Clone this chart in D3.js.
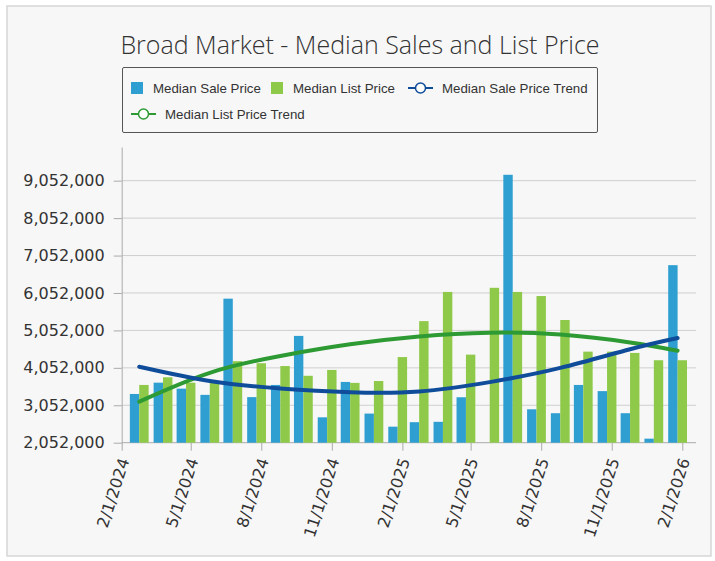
<!DOCTYPE html>
<html>
<head>
<meta charset="utf-8">
<script src="https://cdn.jsdelivr.net/npm/d3@7"></script>
<style>
  body { margin: 0; background: #fff; }
  svg { display: block; }
  .ylab text, .xlab text { font: 16px "DejaVu Sans", sans-serif; fill: #333; }
  .legend text { font: 13.3px "Liberation Sans", Arial, sans-serif; fill: #333; }
</style>
</head>
<body>
<svg id="chart" width="715" height="561"></svg>
<script>
// monthly values
var months = ["3/1/2024","4/1/2024","5/1/2024","6/1/2024","7/1/2024","8/1/2024","9/1/2024","10/1/2024",
              "11/1/2024","12/1/2024","1/1/2025","2/1/2025","3/1/2025","4/1/2025","5/1/2025","6/1/2025",
              "7/1/2025","8/1/2025","9/1/2025","10/1/2025","11/1/2025","12/1/2025","1/1/2026","2/1/2026"];
var salePrice = [3354000,3656000,3496000,3330000,5900000,3270000,3595000,4905000,
                 2730000,3675000,2830000,2480000,2600000,2610000,3266000,null,
                 9210000,2945000,2840000,3595000,3430000,2840000,2160000,6795000];
var listPrice = [3595000,3800000,3656000,3660000,4230000,4175000,4100000,3840000,
                 3996000,3650000,3700000,4340000,5300000,6080000,4405000,6190000,
                 6080000,5970000,5330000,4485000,4485000,4450000,4255000,4255000];

// trend lines
var trendMonths = ["3/1/2024","6/1/2024","9/1/2024","12/1/2024","3/1/2025","6/1/2025","9/1/2025","12/1/2025","2/1/2026"];
var saleTrend = [4080000,3700000,3500000,3400000,3420000,3670000,4050000,4550000,4850000];
var listTrend = [3150000,3920000,4370000,4680000,4890000,4990000,4940000,4730000,4510000];

var yTicks = [2052000,3052000,4052000,5052000,6052000,7052000,8052000,9052000];
var xTicks = ["2/1/2024","5/1/2024","8/1/2024","11/1/2024","2/1/2025","5/1/2025","8/1/2025","11/1/2025","2/1/2026"];

var parse = d3.timeParse("%m/%d/%Y");
var svg = d3.select("#chart");

var plotL = 121.7, plotR = 696, plotT = 147, plotB = 442.7;
var barW = 9.4;

svg.append("rect")
  .attr("x", 7).attr("y", 6).attr("width", 704).attr("height", 550)
  .attr("fill", "#f7f7f7").attr("stroke", "#d6d6d6").attr("stroke-width", 1.5);

svg.append("text")
  .attr("x", 360).attr("y", 54)
  .attr("text-anchor", "middle")
  .style("font", "300 25px 'Open Sans', sans-serif")
  .style("fill", "#333")
  .text("Broad Market - Median Sales and List Price");

var x = d3.scaleTime()
  .domain([parse("2/1/2024"), parse("2/1/2026")])
  .range([plotL, 682.3]);
var y = d3.scaleLinear().domain([2052000, 9952000]).range([plotB, plotT]);

// grid
svg.append("g").selectAll("line")
  .data(yTicks.slice(1))
  .enter().append("line")
  .attr("x1", plotL).attr("x2", plotR)
  .attr("y1", function(d){ return y(d); }).attr("y2", function(d){ return y(d); })
  .attr("stroke", "#cfcfcf");

// y axis
var gy = svg.append("g").attr("class", "ylab")
  .attr("transform", "translate(" + plotL + ",0)")
  .call(d3.axisLeft(y).tickValues(yTicks).tickFormat(d3.format(",")).tickSize(8).tickPadding(9).tickSizeOuter(0));
gy.select(".domain").attr("stroke", "#aaa");
gy.selectAll(".tick line").attr("stroke", "#aaa");

// x axis
var gx = svg.append("g").attr("class", "xlab")
  .attr("transform", "translate(0," + plotB + ")")
  .call(d3.axisBottom(x).tickValues(xTicks.map(parse)).tickFormat(d3.timeFormat("%-m/%-d/%Y")).tickSize(8).tickSizeOuter(0));
gx.select(".domain").remove();
gx.append("line").attr("x1", plotL).attr("x2", plotR).attr("stroke", "#aaa");
gx.selectAll(".tick line").attr("stroke", "#aaa");
gx.selectAll(".tick text")
  .attr("text-anchor", "end")
  .attr("x", 0).attr("y", 0).attr("dy", "0.35em")
  .attr("transform", "translate(2,16) rotate(-72)");

// bars
var cx = function(m){ return x(parse(m)) - barW / 2; };
var bars = svg.append("g");
bars.selectAll(".sale")
  .data(months.map(function(m, i){ return {m: m, v: salePrice[i]}; }).filter(function(d){ return d.v != null; }))
  .enter().append("rect")
  .attr("class", "sale")
  .attr("x", function(d){ return cx(d.m) - barW; })
  .attr("width", barW)
  .attr("y", function(d){ return y(d.v); })
  .attr("height", function(d){ return plotB - y(d.v); })
  .attr("fill", "#2f9fd1");
bars.selectAll(".list")
  .data(months.map(function(m, i){ return {m: m, v: listPrice[i]}; }))
  .enter().append("rect")
  .attr("class", "list")
  .attr("x", function(d){ return cx(d.m); })
  .attr("width", barW)
  .attr("y", function(d){ return y(d.v); })
  .attr("height", function(d){ return plotB - y(d.v); })
  .attr("fill", "#8fc94a");

// trends
var line = d3.line()
  .x(function(d){ return cx(d[0]); })
  .y(function(d){ return y(d[1]); })
  .curve(d3.curveNatural);
svg.append("path")
  .attr("d", line(d3.zip(trendMonths, listTrend)))
  .attr("fill", "none").attr("stroke", "#2e9a33").attr("stroke-width", 4).attr("stroke-linecap", "round");
svg.append("path")
  .attr("d", line(d3.zip(trendMonths, saleTrend)))
  .attr("fill", "none").attr("stroke", "#0f4c9a").attr("stroke-width", 4).attr("stroke-linecap", "round");

// legend
var lg = svg.append("g").attr("class", "legend");
lg.append("rect").attr("x", 122.5).attr("y", 67.5).attr("width", 475).attr("height", 65)
  .attr("rx", 1.5).attr("fill", "none").attr("stroke", "#555");

var items = [
  {t: "Median Sale Price", c: "#2f9fd1", k: "box", x: 131, y: 88},
  {t: "Median List Price", c: "#8fc94a", k: "box", x: 271, y: 88},
  {t: "Median Sale Price Trend", c: "#0f4c9a", k: "line", x: 408, y: 88},
  {t: "Median List Price Trend", c: "#2e9a33", k: "line", x: 131, y: 114}
];
items.forEach(function(it){
  var g = lg.append("g").attr("transform", "translate(" + it.x + "," + it.y + ")");
  if (it.k === "box") {
    g.append("rect").attr("x", 0).attr("y", -6).attr("width", 12).attr("height", 12).attr("fill", it.c);
    g.append("text").attr("x", 22).attr("dy", "0.35em").text(it.t);
  } else {
    g.append("line").attr("x1", 0).attr("x2", 25).attr("stroke", it.c).attr("stroke-width", 2);
    g.append("circle").attr("cx", 12.5).attr("r", 5).attr("fill", "#fff").attr("stroke", it.c).attr("stroke-width", 1.5);
    g.append("text").attr("x", 34).attr("dy", "0.35em").text(it.t);
  }
});
</script>
</body>
</html>
